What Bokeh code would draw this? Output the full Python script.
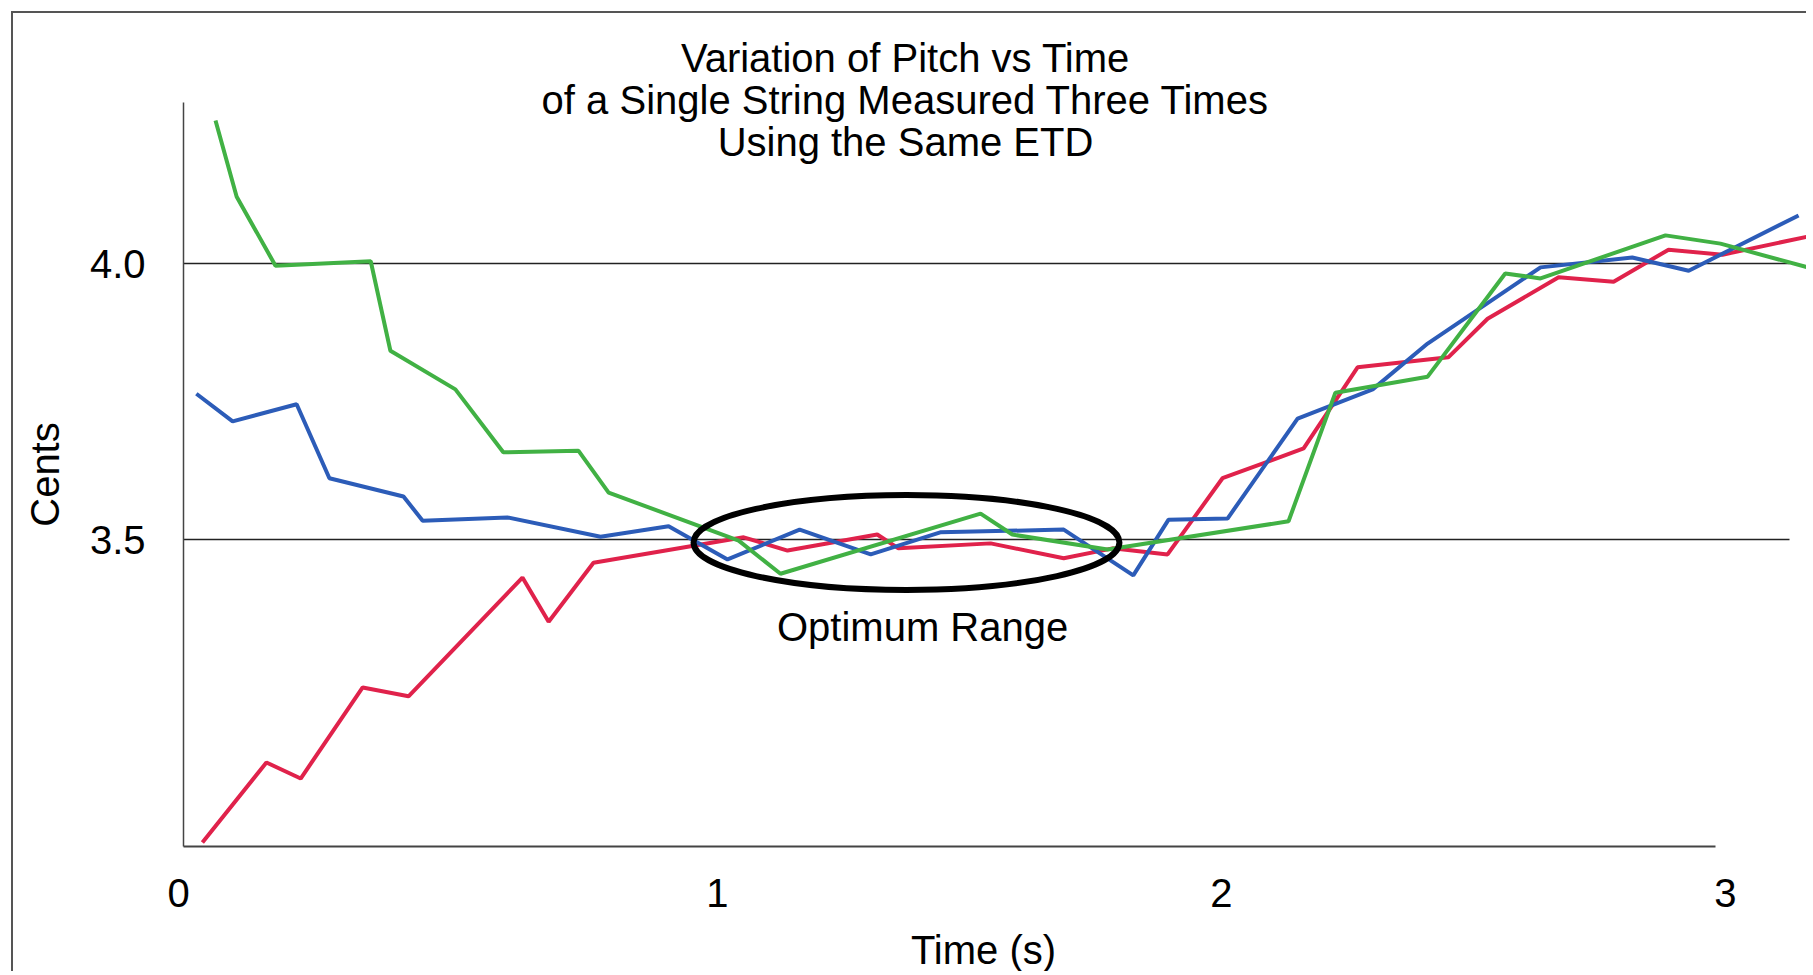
from bokeh.plotting import figure
from bokeh.models import FixedTicker, CustomJSTickFormatter, Label, Range1d, LinearAxis
from bokeh.embed import file_html
from bokeh.resources import INLINE

# ---- data ----
time_red = [-0.022, 0.105, 0.173, 0.296, 0.387, 0.613, 0.665, 0.754, 1.052, 1.139,
            1.317, 1.359, 1.542, 1.687, 1.784, 1.893, 2.002, 2.163, 2.270, 2.450,
            2.528, 2.669, 2.778, 2.887, 2.994, 3.175]
cents_red = [2.951, 3.096, 3.067, 3.232, 3.216, 3.431, 3.351, 3.458, 3.504, 3.480,
             3.509, 3.484, 3.493, 3.466, 3.484, 3.473, 3.611, 3.665, 3.812, 3.830,
             3.900, 3.975, 3.967, 4.025, 4.016, 4.051]

time_blue = [-0.034, 0.038, 0.165, 0.230, 0.377, 0.415, 0.583, 0.768, 0.903, 1.020,
             1.163, 1.304, 1.442, 1.687, 1.825, 1.895, 2.012, 2.151, 2.300, 2.409,
             2.633, 2.815, 2.927, 3.145]
cents_blue = [3.764, 3.714, 3.745, 3.611, 3.578, 3.534, 3.540, 3.505, 3.524, 3.464,
              3.518, 3.473, 3.513, 3.518, 3.435, 3.536, 3.538, 3.719, 3.772, 3.855,
              3.993, 4.011, 3.987, 4.087]

time_green = [0.004, 0.046, 0.123, 0.312, 0.351, 0.480, 0.575, 0.724, 0.784, 1.042,
              1.125, 1.522, 1.585, 1.774, 2.133, 2.226, 2.409, 2.563, 2.633, 2.881,
              2.990, 3.163]
cents_green = [4.259, 4.121, 3.996, 4.004, 3.842, 3.772, 3.658, 3.661, 3.585, 3.498,
               3.438, 3.547, 3.509, 3.482, 3.533, 3.766, 3.795, 3.982, 3.973, 4.051,
               4.036, 3.993]

y_ticks = [3.5, 4.0]
x_ticks = [1, 2, 3]
title_lines = ["Variation of Pitch vs Time",
               "of a Single String Measured Three Times",
               "Using the Same ETD"]

# ---- layout constants ----
FONT = "Liberation Sans"
X_START, X_END = -0.3968, 3.1647
Y_START, Y_END = 2.7138, 4.4529
X_AXIS_LEFT, X_AXIS_END = -0.0595, 2.98
ZERO_TICK = -0.0694
X_LABEL_END = 3.125
Y_AXIS_BOTTOM, Y_AXIS_TOP = 2.9438, 4.2917
GRID_END = 3.127

p = figure(width=1795, height=960, output_backend="svg", toolbar_location=None,
           x_range=Range1d(X_START, X_END), y_range=Range1d(Y_START, Y_END),
           min_border_left=0, min_border_top=0, min_border_bottom=0,
           min_border_right=0)
p.styles = {"margin-left": "11px", "margin-top": "11px",
            "border-left": "2px solid #555", "border-top": "2px solid #555"}
p.outline_line_color = None
p.background_fill_color = "white"
p.border_fill_color = "white"
p.grid.visible = False

# horizontal reference lines at the y ticks
p.segment(x0=[X_AXIS_LEFT] * len(y_ticks), y0=y_ticks,
          x1=[GRID_END] * len(y_ticks), y1=y_ticks,
          line_color="#222222", line_width=1.5)

# x axis (fixed inside the frame): line and tick labels 1, 2, 3
xa = p.xaxis[0]
xa.fixed_location = Y_AXIS_BOTTOM
xa.ticker = FixedTicker(ticks=x_ticks)
xa.formatter = CustomJSTickFormatter(code="return tick.toFixed(0);")
xa.bounds = (X_AXIS_LEFT, X_AXIS_END)
xa.axis_line_color = "#444444"
xa.axis_line_width = 2
xa.major_tick_line_color = None
xa.minor_tick_line_color = None
xa.major_tick_out = 0
xa.major_tick_in = 0
xa.major_label_text_font = FONT
xa.major_label_text_font_size = "40px"
xa.major_label_text_color = "black"
xa.major_label_standoff = 32

# second x axis: the origin label "0" and the axis title
xt = LinearAxis(fixed_location=Y_AXIS_BOTTOM, bounds=(ZERO_TICK, X_LABEL_END),
                ticker=FixedTicker(ticks=[ZERO_TICK]),
                formatter=CustomJSTickFormatter(code="return '0';"),
                axis_line_color=None,
                major_tick_line_color=None, minor_tick_line_color=None,
                major_tick_out=0, major_tick_in=0,
                major_label_text_font=FONT, major_label_text_font_size="40px",
                major_label_text_color="black", major_label_standoff=32,
                axis_label="Time (s)", axis_label_text_font=FONT,
                axis_label_text_font_size="40px", axis_label_text_font_style="normal",
                axis_label_text_color="black", axis_label_standoff=18)
p.add_layout(xt, "below")

# y axis (fixed inside the frame)
ya = p.yaxis[0]
ya.fixed_location = X_AXIS_LEFT
ya.ticker = FixedTicker(ticks=y_ticks)
ya.formatter = CustomJSTickFormatter(code="return tick.toFixed(1);")
ya.bounds = (Y_AXIS_BOTTOM, Y_AXIS_TOP)
ya.axis_line_color = "#444444"
ya.axis_line_width = 1.5
ya.major_tick_line_color = None
ya.minor_tick_line_color = None
ya.major_tick_out = 0
ya.major_tick_in = 0
ya.major_label_text_font = FONT
ya.major_label_text_font_size = "40px"
ya.major_label_text_color = "black"
ya.major_label_standoff = 38
ya.axis_label = "Cents"
ya.axis_label_text_font = FONT
ya.axis_label_text_font_size = "40px"
ya.axis_label_text_font_style = "normal"
ya.axis_label_text_color = "black"
ya.axis_label_standoff = 20

# series
p.line(time_red, cents_red, line_color="#e0224b", line_width=4)
p.line(time_blue, cents_blue, line_color="#2c5cb8", line_width=4)
p.line(time_green, cents_green, line_color="#41b144", line_width=4)

# optimum range ellipse
p.ellipse(x=[1.375], y=[3.4946], width=0.845, height=0.172,
          fill_color=None, line_color="black", line_width=6)

p.add_layout(Label(x=1.407, y=3.342, text="Optimum Range", text_font=FONT,
                   text_font_size="40px", text_color="black",
                   text_align="center", text_baseline="alphabetic"))

# title (three centred lines)
for line, yb in zip(title_lines, [4.372, 4.296, 4.220]):
    p.add_layout(Label(x=1.373, y=yb, text=line, text_font=FONT,
                       text_font_size="40px", text_color="black",
                       text_align="center", text_baseline="alphabetic"))

open("out.html", "w").write(file_html(p, INLINE))
